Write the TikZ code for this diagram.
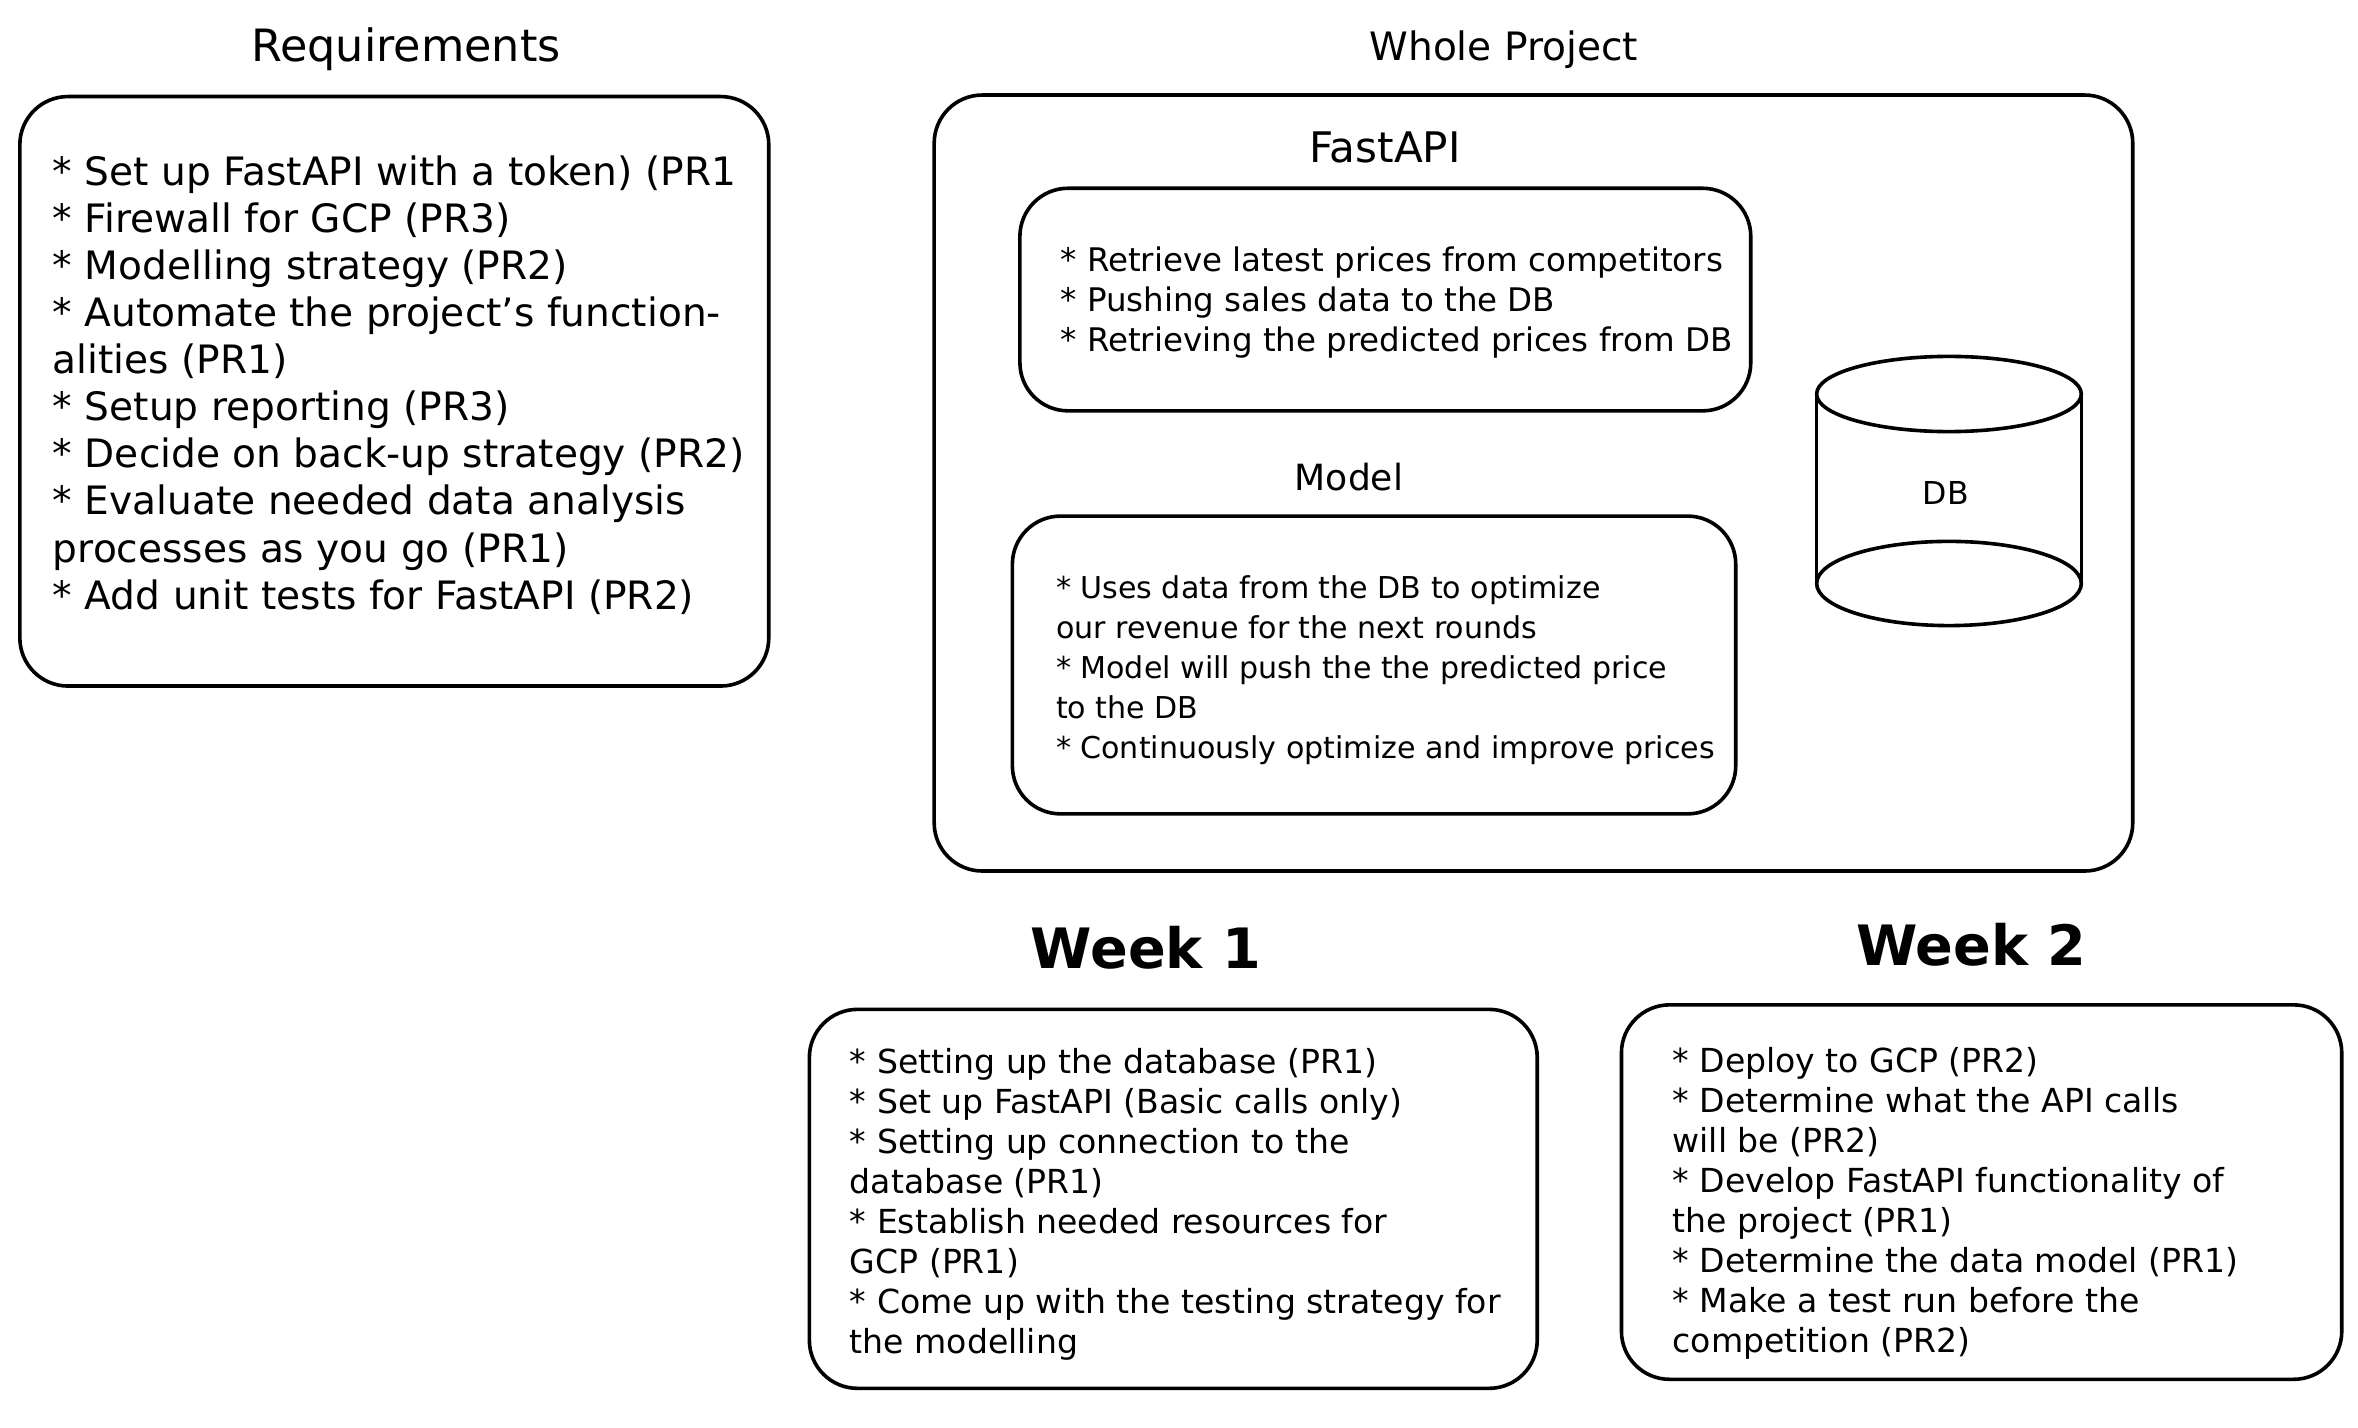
\documentclass[tikz,border=0pt]{standalone}
\usepackage{fontspec}
\setmainfont{DejaVu Sans}
\begin{document}
\begin{tikzpicture}[x=1pt,y=-1pt,
  box/.style={draw, line width=2.4pt, rounded corners=32pt, anchor=north west, inner sep=0pt},
  bigtext/.style={font=\fontsize{26}{31.3}\selectfont, align=left, anchor=west, inner sep=0pt},
  fatextstyle/.style={font=\fontsize{21.6}{26.6}\selectfont, align=left, anchor=west, inner sep=0pt},
  modeltextstyle/.style={font=\fontsize{20}{26.6}\selectfont, align=left, anchor=west, inner sep=0pt},
  weektext/.style={font=\fontsize{22}{26.6}\selectfont, align=left, anchor=west, inner sep=0pt},
  title/.style={font=\fontsize{29.6}{34}\selectfont, inner sep=0pt},
  subtitle/.style={font=\fontsize{26}{30}\selectfont, inner sep=0pt},
  weektitle/.style={font=\fontsize{37}{44}\selectfont\bfseries, inner sep=0pt},
  dbline/.style={line width=2.4pt}]
\useasboundingbox (0,0) rectangle (1568,949);

% Requirements
\node[title] (reqtitle) at (270,33) {Requirements};
\node[box, minimum width=498pt, minimum height=392pt] (req) at (12,63) {};
\node[bigtext] (reqtext) at (35,256) {* Set up FastAPI with a token) (PR1\\
* Firewall for GCP (PR3)\\
* Modelling strategy (PR2)\\
* Automate the project's function-\\
alities (PR1)\\
* Setup reporting (PR3)\\
* Decide on back-up strategy (PR2)\\
* Evaluate needed data analysis\\
processes as you go (PR1)\\
* Add unit tests for FastAPI (PR2)};

% Whole project
\node[subtitle] (wptitle) at (1000,33) {Whole Project};
\node[box, minimum width=797pt, minimum height=516pt] (wp) at (620,62) {};

\node[subtitle, font=\fontsize{28}{32}\selectfont] (fatitle) at (921,98) {FastAPI};
\node[box, minimum width=486pt, minimum height=148pt] (fa) at (677,124) {};
\node[fatextstyle] (fatext) at (705,201.5) {* Retrieve latest prices from competitors\\
* Pushing sales data to the DB\\
* Retrieving the predicted prices from DB};

\node[subtitle, font=\fontsize{24}{30}\selectfont] (mtitle) at (897,317) {Model};
\node[box, minimum width=481pt, minimum height=198pt] (model) at (672,342) {};
\node[modeltextstyle] (mtext) at (702,445.5) {* Uses data from the DB to optimize\\
our revenue for the next rounds\\
* Model will push the the predicted price\\
to the DB\\
* Continuously optimize and improve prices};

% DB cylinder
\draw[dbline] (1296,262) ellipse [x radius=88, y radius=25];
\draw[dbline] (1296,388) ellipse [x radius=88, y radius=28];
\draw[dbline] (1208,262) -- (1208,388);
\draw[dbline] (1384,262) -- (1384,388);
\node[font=\fontsize{21}{24}\selectfont] (db) at (1294,328) {DB};

% Week 1
\node[weektitle] (w1title) at (762,630) {Week 1};
\node[box, minimum width=484pt, minimum height=252pt] (w1) at (537,670) {};
\node[weektext] (w1text) at (565,801) {* Setting up the database (PR1)\\
* Set up FastAPI (Basic calls only)\\
* Setting up connection to the\\
database (PR1)\\
* Establish needed resources for\\
GCP (PR1)\\
* Come up with the testing strategy for\\
the modelling};

% Week 2
\node[weektitle] (w2title) at (1311,628) {Week 2};
\node[box, minimum width=479pt, minimum height=249pt] (w2) at (1077,667) {};
\node[weektext] (w2text) at (1112,800.5) {* Deploy to GCP (PR2)\\
* Determine what the API calls\\
will be (PR2)\\
* Develop FastAPI functionality of\\
the project (PR1)\\
* Determine the data model (PR1)\\
* Make a test run before the\\
competition (PR2)};
\end{tikzpicture}
\end{document}
